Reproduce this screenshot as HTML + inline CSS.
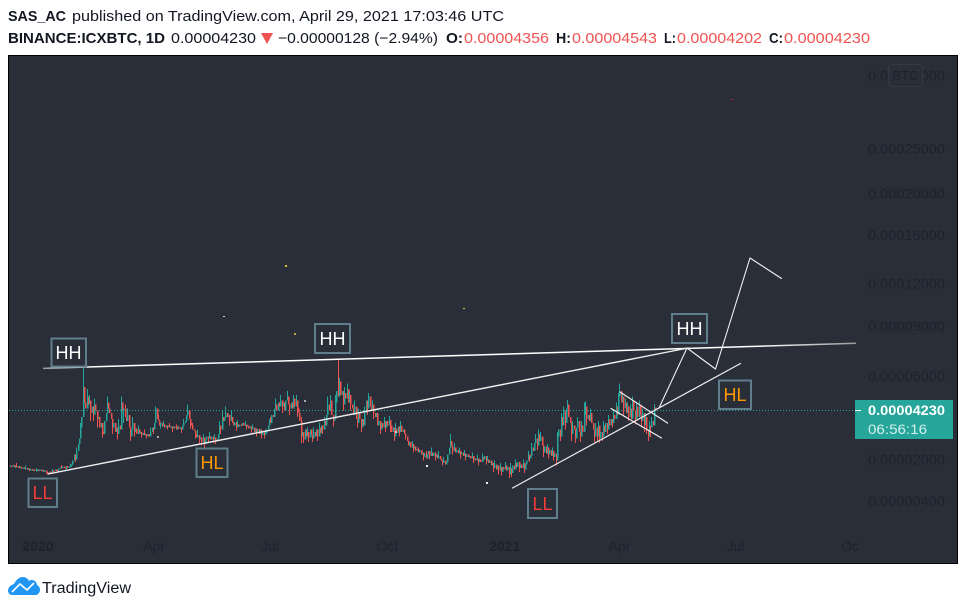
<!DOCTYPE html>
<html lang="en">
<head>
<meta charset="utf-8">
<title>BINANCE:ICXBTC chart</title>
<style>
html,body{margin:0;padding:0;background:#fff;width:966px;height:610px;overflow:hidden}
svg{display:block;font-family:"Liberation Sans",sans-serif}
.hd{font-size:15px;fill:#131722}
.b{font-weight:bold}
.r{fill:#ef5350}
.ax{font-size:14px;fill:#1e222d}
.bx{fill:#2a2e39;stroke:#607d8b;stroke-width:2}
.lb{font-size:18px;text-anchor:middle}
.dr{fill:none;stroke:#f0f0f0;stroke-linecap:round;stroke-linejoin:round}
</style>
</head>
<body>
<svg id="chart" xmlns="http://www.w3.org/2000/svg" width="966" height="610" viewBox="0 0 966 610">
  <defs>
    <linearGradient id="fade" gradientUnits="userSpaceOnUse" x1="43" y1="0" x2="856" y2="0">
      <stop offset="0" stop-color="#9a9a9a"/><stop offset="0.06" stop-color="#fff"/>
      <stop offset="0.88" stop-color="#fff"/><stop offset="1" stop-color="#9a9a9a"/>
    </linearGradient>
  </defs>
  <g>
    <text class="hd" x="8" y="21" textLength="58" lengthAdjust="spacingAndGlyphs" font-weight="bold">SAS_AC</text>
    <text class="hd" x="72" y="21" textLength="432" lengthAdjust="spacingAndGlyphs">published on TradingView.com, April 29, 2021 17:03:46 UTC</text>
    <text class="hd b" x="8" y="43" textLength="157" lengthAdjust="spacingAndGlyphs">BINANCE:ICXBTC, 1D</text>
    <text class="hd" x="171" y="43" textLength="85" lengthAdjust="spacingAndGlyphs">0.00004230</text>
    <polygon points="261,33 273,33 267,44" fill="#ef5350"/>
    <text class="hd" x="278" y="43" textLength="160" lengthAdjust="spacingAndGlyphs">−0.00000128 (−2.94%)</text>
    <text class="hd b" x="446" y="43" textLength="17" lengthAdjust="spacingAndGlyphs">O:</text>
    <text class="hd r" x="464" y="43" textLength="85" lengthAdjust="spacingAndGlyphs">0.00004356</text>
    <text class="hd b" x="556" y="43" textLength="15" lengthAdjust="spacingAndGlyphs">H:</text>
    <text class="hd r" x="572" y="43" textLength="85" lengthAdjust="spacingAndGlyphs">0.00004543</text>
    <text class="hd b" x="664" y="43" textLength="12" lengthAdjust="spacingAndGlyphs">L:</text>
    <text class="hd r" x="677" y="43" textLength="85" lengthAdjust="spacingAndGlyphs">0.00004202</text>
    <text class="hd b" x="769" y="43" textLength="14" lengthAdjust="spacingAndGlyphs">C:</text>
    <text class="hd r" x="784" y="43" textLength="86" lengthAdjust="spacingAndGlyphs">0.00004230</text>
  </g>

  <rect x="8.5" y="55.5" width="949" height="508" fill="#2a2e39" stroke="#000" stroke-width="1"/>

  <g id="yAxis"></g>
  <g id="xAxis"></g>

  <rect x="888.5" y="64.5" width="34" height="22" rx="4" fill="#2a2e39" stroke="#363a45"/>
  <text x="905.5" y="80" font-size="13" fill="#1e222d" text-anchor="middle">BTC</text>

  <line x1="9" y1="410.5" x2="855" y2="410.5" stroke="#26a69a" stroke-width="1" stroke-dasharray="1 2"/>

  <g id="candles" shape-rendering="crispEdges"></g>

  <g>
    <rect x="285" y="265" width="2" height="2" fill="#d4c13a"/>
    <rect x="223" y="316" width="2" height="1" fill="#cfcfcf"/>
    <rect x="294" y="333" width="2" height="2" fill="#b5a94a"/>
    <rect x="463" y="308" width="2" height="1" fill="#d4c13a"/>
    <rect x="731" y="99" width="2" height="1" fill="#c2185b"/>
    <rect x="157" y="436" width="2" height="2" fill="#aaa"/>
    <rect x="304" y="400" width="2" height="2" fill="#aaa"/>
    <rect x="395" y="431" width="2" height="2" fill="#ccc"/>
    <rect x="426" y="465" width="2" height="2" fill="#eee"/>
    <rect x="486" y="482" width="2" height="2" fill="#eee"/>
  </g>

  <g>
    <path d="M43 368.4L856 343.2" fill="none" stroke="url(#fade)" stroke-width="1.5"/>
    <line class="dr" x1="48" y1="474" x2="688" y2="348" stroke-width="1.4"/>
    <line class="dr" x1="512.5" y1="488" x2="740.5" y2="363.5" stroke-width="1.2"/>
    <line class="dr" x1="620" y1="392" x2="667.5" y2="423" stroke-width="1.2"/>
    <line class="dr" x1="611" y1="408.5" x2="661.5" y2="438" stroke-width="1.2"/>
    <polyline class="dr" points="659,408 687,348 715.5,369 750,258 781.5,278.5" stroke-width="1.1"/>
  </g>

  <g>
    <rect class="bx" x="51.5" y="338.5" width="34.5" height="28"/>
    <text class="lb" x="68.5" y="359" fill="#fff">HH</text>
    <rect class="bx" x="28.5" y="478.5" width="28.5" height="28.5"/>
    <text class="lb" x="42.5" y="499" fill="#f23e36">LL</text>
    <rect class="bx" x="196.5" y="448.5" width="31" height="28.5"/>
    <text class="lb" x="212" y="469" fill="#ff9800">HL</text>
    <rect class="bx" x="315" y="324" width="35" height="29"/>
    <text class="lb" x="332.5" y="345" fill="#fff">HH</text>
    <rect class="bx" x="528" y="489" width="29" height="29"/>
    <text class="lb" x="542.5" y="510" fill="#f23e36">LL</text>
    <rect class="bx" x="672" y="314" width="35" height="29"/>
    <text class="lb" x="689.5" y="335" fill="#fff">HH</text>
    <rect class="bx" x="719" y="380.5" width="32" height="28.5"/>
    <text class="lb" x="735" y="401" fill="#ff9800">HL</text>
  </g>

  <g>
    <rect x="855" y="400" width="98" height="39" fill="#26a69a"/>
    <rect x="855" y="410" width="6" height="1" fill="#fff"/>
    <text x="868" y="415" font-size="14" font-weight="bold" fill="#fff" textLength="77" lengthAdjust="spacingAndGlyphs">0.00004230</text>
    <text x="868" y="434" font-size="14" fill="#d4eeeb" textLength="59" lengthAdjust="spacingAndGlyphs">06:56:16</text>
  </g>

  <g>
    <path d="M8 591c0-4 3-6 6-7 2-4 5-7 9-7 3 0 5 2 6 4 1-1 2-1 3-1 3 0 5 3 5 5 2 1 3 3 3 5 0 2-2 5-4 5H12c-2 0-4-2-4-4z" fill="#2196f3"/>
    <polyline points="12,592 20,584 27,590 34,583" fill="none" stroke="#fff" stroke-width="1.6"/>
    <text x="42" y="593" font-size="15.5" fill="#131722" textLength="89" lengthAdjust="spacingAndGlyphs">TradingView</text>
  </g>
</svg>

<script>
// Prices in units of 0.00001 BTC; one value per trading day starting 10 Dec 2019.
const closes = [
1.75,1.72,1.78,1.7,1.74,1.69,1.73,1.66,1.7,1.64,
1.67,1.62,1.66,1.6,1.63,1.58,1.62,1.57,1.6,1.55,
1.58,1.6,1.56,1.59,1.54,1.57,1.52,1.55,1.5,1.47,
1.46,1.52,1.49,1.56,1.53,1.6,1.58,1.55,1.63,1.7,
1.65,1.72,1.68,1.66,1.74,1.7,1.72,1.76,1.8,1.95,
2.2,2.0,2.35,2.65,2.9,3.4,3.9,5.4,4.6,4.3,
4.9,4.5,4.7,4.1,4.4,4.0,4.5,4.2,3.8,3.9,
3.4,3.6,3.2,3.1,3.7,4.1,4.6,4.3,4.1,3.8,
3.4,3.6,3.2,3.4,3.1,3.5,3.3,4.6,4.2,4.3,
3.9,3.7,4.0,3.4,3.0,3.3,3.6,3.2,3.35,3.1,
3.3,3.15,3.2,3.05,3.15,3.05,3.1,3.0,3.1,3.0,
3.2,3.4,3.3,3.6,4.3,3.8,3.7,3.5,3.6,3.45,
3.55,3.4,3.5,3.45,3.5,3.4,3.45,3.35,3.45,3.4,
3.3,3.45,3.35,3.4,3.3,3.5,3.6,3.7,4.0,4.2,
3.8,3.6,3.5,3.3,3.25,3.1,2.95,3.05,2.85,2.95,
2.75,2.95,2.65,2.85,3.0,2.9,3.0,2.85,3.0,2.85,
2.95,2.8,2.9,3.1,3.5,3.3,3.9,3.7,3.85,4.1,
3.9,4.0,3.7,3.9,3.6,3.5,3.65,3.4,3.55,3.45,
3.55,3.5,3.6,3.5,3.55,3.45,3.5,3.35,3.45,3.3,
3.4,3.2,3.35,3.15,3.3,3.1,3.3,3.05,3.2,3.05,
3.15,3.3,3.5,3.8,3.6,4.0,3.9,4.3,4.5,4.2,
4.6,4.4,4.7,4.4,4.6,4.2,4.7,4.9,4.5,4.3,
4.6,4.3,4.8,4.4,4.7,4.3,4.1,3.7,3.0,3.2,
2.85,3.3,3.0,3.2,2.95,3.3,3.05,2.9,3.2,3.0,
3.3,3.0,3.4,3.15,3.5,3.3,3.7,3.5,4.0,4.5,
4.2,4.7,4.0,3.7,3.8,4.6,5.2,4.9,5.7,5.0,
5.2,4.5,5.1,4.8,5.3,4.6,5.0,4.5,4.3,4.0,
4.4,3.8,3.6,4.1,3.8,3.4,3.8,3.5,4.1,4.7,
4.3,4.9,4.4,4.2,4.5,4.1,3.9,4.1,3.5,3.7,
3.3,3.6,3.4,3.7,3.4,3.7,3.5,3.75,3.5,3.2,
3.4,3.0,3.35,3.15,3.45,3.2,3.5,3.2,3.3,3.1,
3.0,2.8,2.6,2.75,2.5,2.65,2.45,2.55,2.35,2.45,
2.3,2.4,2.2,2.3,2.1,2.25,2.05,2.2,2.35,2.15,
2.3,2.15,2.3,2.1,2.2,2.05,2.15,2.0,1.95,1.85,
1.95,1.8,1.9,2.2,2.5,2.8,2.55,2.35,2.5,2.3,
2.4,2.25,2.35,2.2,2.3,2.15,2.25,2.1,2.2,2.1,
2.15,2.05,2.15,2.0,2.05,1.95,2.05,1.9,2.0,1.9,
2.1,2.0,2.15,1.95,2.0,1.85,1.95,1.75,1.85,1.65,
1.8,1.6,1.75,1.55,1.7,1.5,1.7,1.6,1.75,1.55,
1.7,1.4,1.65,1.45,1.75,1.6,1.85,1.7,1.9,1.65,
1.8,1.65,1.85,1.6,1.8,1.95,2.2,2.05,2.15,2.5,
2.35,2.7,2.9,2.6,3.1,2.8,3.0,2.6,2.3,2.55,
2.25,2.5,2.2,2.4,2.15,2.35,2.1,2.25,1.95,3.0,
3.3,3.0,3.9,3.5,4.2,3.6,4.3,4.5,3.9,3.6,
3.1,3.5,3.3,2.9,3.4,3.7,3.2,3.0,3.5,3.2,
4.0,4.4,3.8,4.0,3.7,4.1,3.6,3.3,3.0,3.4,
3.0,3.5,2.9,3.2,3.0,3.5,3.2,3.6,3.3,3.8,
3.5,3.8,3.6,4.0,3.8,4.4,4.0,4.9,5.2,4.6,
4.9,4.3,4.6,4.1,4.4,3.9,4.3,3.8,4.7,4.2,
3.8,4.4,3.9,4.5,4.0,3.7,4.1,3.5,3.9,3.3,
3.0,3.5,3.4,3.7,3.5,4.356,4.23
];
// Sparse wick extremes: the day index and the price it reached.
const highDays = [5,12,20,33,40,47,52,55,57,60,62,66,70,76,80,85,87,90,92,96,100,105,110,114,116,120,125,130,136,139,143,147,151,156,160,164,166,169,173,178,184,190,195,200,204,208,212,217,222,224,228,233,238,242,246,249,251,255,257,258,262,264,266,270,273,278,281,284,288,293,297,302,306,311,315,320,326,330,336,340,345,348,352,356,362,366,370,374,380,384,388,392,396,402,406,409,412,414,416,421,425,429,432,434,437,441,445,448,450,451,455,459,461,465,469,473,475,477,478,480,482,484,486,488,491,493,496,498,501,503,505];
const highValues = [1.85,1.76,1.66,1.62,1.78,1.84,2.5,3.6,6.46,5.3,5.0,4.8,3.9,4.9,3.8,3.8,4.9,4.5,4.3,3.9,3.5,3.3,3.4,4.4,4.0,3.7,3.6,3.55,3.8,4.5,3.6,3.3,3.1,3.2,3.1,3.7,4.2,4.4,4.2,3.75,3.7,3.55,3.35,3.3,3.9,4.8,5.0,5.2,5.0,5.0,3.9,3.4,3.4,3.6,3.9,4.9,5.0,5.0,6.9,5.9,5.4,5.6,5.2,4.7,4.3,4.4,5.1,4.7,3.8,3.9,3.95,3.6,3.7,3.0,2.8,2.5,2.35,2.5,2.35,2.1,3.1,2.7,2.5,2.4,2.3,2.2,2.25,2.15,1.95,1.85,1.9,1.85,2.0,2.0,2.35,2.7,3.1,3.3,3.2,2.65,2.5,3.2,4.1,4.4,4.73,3.7,3.9,3.7,4.6,4.65,4.3,3.6,3.7,3.7,4.0,4.2,4.6,5.1,5.6,5.1,4.8,4.6,4.5,4.9,4.6,4.7,4.3,4.1,3.7,3.9,4.543];
const lowDays = [4,15,28,31,38,44,51,63,65,68,72,80,84,89,94,97,103,107,112,118,123,127,134,141,145,148,150,152,155,159,161,165,172,177,185,189,193,197,199,205,213,219,225,228,230,234,237,241,245,253,261,267,272,275,280,285,290,294,298,301,305,310,316,324,329,333,339,347,353,357,363,367,373,379,383,385,391,393,399,403,407,413,418,422,426,428,431,435,440,443,447,452,458,460,462,464,468,472,481,485,490,495,497,499,500,502,506];
const lowValues = [1.65,1.54,1.43,1.42,1.5,1.6,1.9,3.7,3.7,3.4,2.95,3.1,2.85,3.6,2.8,3.0,2.95,2.9,3.1,3.35,3.3,3.2,3.15,3.35,2.9,2.65,2.6,2.5,2.7,2.7,2.65,3.1,3.5,3.25,3.3,3.15,3.0,2.9,2.9,3.6,4.1,4.0,3.9,2.7,2.7,2.75,2.75,2.8,3.1,3.45,4.2,4.2,3.4,3.2,4.0,3.8,3.1,3.2,3.2,2.8,3.0,2.85,2.3,1.95,2.0,1.95,1.75,2.2,2.05,1.95,1.85,1.75,1.8,1.5,1.4,1.35,1.26,1.3,1.5,1.45,1.9,2.4,2.1,2.05,1.95,1.75,2.8,3.3,2.8,2.7,2.75,3.5,2.75,2.8,2.7,2.8,3.1,3.4,4.0,3.7,3.55,3.4,3.2,3.1,2.8,2.95,4.202];
const yTickLabels = ["0.00035000","0.00025000","0.00020000","0.00016000","0.00012000","0.00009000","0.00006000","0.00002000","0.00000400"];
const yTickValues = [35,25,20,16,12,9,6,2,0.4];
const xTickLabels = ["2020","Apr","Jul","Oct","2021","Apr","Jul","Oct"];
const xTickDays = [22,113,204,296,388,478,569,661];
const xTickBold = [true,false,false,false,true,false,false,false];

const NS = "http://www.w3.org/2000/svg";
function xScale(day){ return 10 + day * 1.275; }
// TradingView's offset-log price scale
function yScale(price){ return 1187.5 - 292 * Math.log(price + 10.1); }

const upColor = "#26a69a";
const downColor = "#ef5350";
const candlesGroup = document.getElementById("candles");
closes.forEach(function(close, i){
  const open = i === 0 ? close : closes[i - 1];
  const hIdx = highDays.indexOf(i);
  const lIdx = lowDays.indexOf(i);
  const high = Math.max(open, close, hIdx >= 0 ? highValues[hIdx] : 0);
  const low = Math.min(open, close, lIdx >= 0 ? lowValues[lIdx] : 1000);
  const color = close >= open ? upColor : downColor;
  const x = Math.round(xScale(i));
  if (high > Math.max(open, close) || low < Math.min(open, close)) {
    const wick = document.createElementNS(NS, "rect");
    wick.setAttribute("x", x);
    wick.setAttribute("y", yScale(high));
    wick.setAttribute("width", 1);
    wick.setAttribute("height", Math.max(1, yScale(low) - yScale(high)));
    wick.setAttribute("fill", color);
    
    
    candlesGroup.appendChild(wick);
  }
  const top = yScale(Math.max(open, close));
  const bottom = yScale(Math.min(open, close));
  const body = document.createElementNS(NS, "rect");
  body.setAttribute("x", x);
  body.setAttribute("y", top);
  body.setAttribute("width", 1.6);
  body.setAttribute("height", Math.max(1.5, bottom - top));
  body.setAttribute("fill", color);
  
  
  candlesGroup.appendChild(body);
});

const yAxis = document.getElementById("yAxis");
yTickLabels.forEach(function(label, i){
  const t = document.createElementNS(NS, "text");
  t.setAttribute("class", "ax");
  t.setAttribute("x", 868);
  t.setAttribute("y", yScale(yTickValues[i]) + 5);
  t.setAttribute("textLength", 77);
  t.setAttribute("lengthAdjust", "spacingAndGlyphs");
  
  
  t.textContent = label;
  yAxis.appendChild(t);
});

const xAxis = document.getElementById("xAxis");
xTickLabels.forEach(function(label, i){
  const t = document.createElementNS(NS, "text");
  t.setAttribute("class", "ax");
  t.setAttribute("x", xScale(xTickDays[i]));
  t.setAttribute("y", 551);
  t.setAttribute("text-anchor", "middle");
  if (xTickBold[i]) t.setAttribute("font-weight", "bold");
  
  
  t.textContent = label;
  xAxis.appendChild(t);
});
const oct = xAxis.lastChild;
oct.textContent = "Oc";
oct.setAttribute("text-anchor", "start");
oct.setAttribute("x", 841);
</script>
</body>
</html>
